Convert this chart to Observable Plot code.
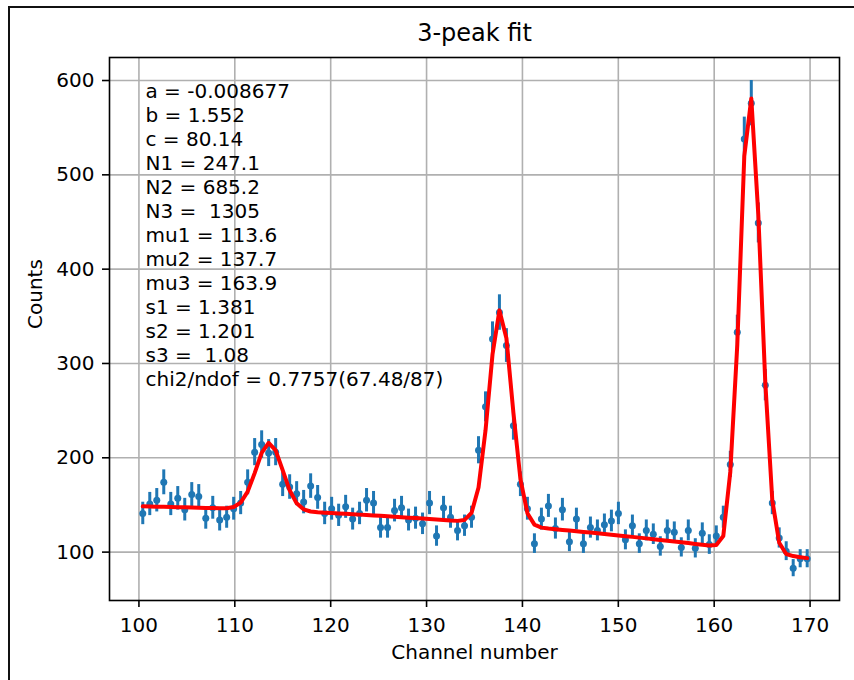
<!DOCTYPE html>
<html>
<head>
<meta charset="utf-8">
<script src="https://cdn.jsdelivr.net/npm/d3@7"></script>
<script src="https://cdn.jsdelivr.net/npm/@observablehq/plot@0.6"></script>
<style>
html, body { margin: 0; padding: 0; background: #ffffff; }
#wrap { position: relative; width: 854px; height: 680px; overflow: hidden; background: #ffffff; }
#chart { position: absolute; left: 0; top: 0; }
#border { position: absolute; left: 8px; top: 6px; right: -20px; bottom: -20px; border-left: 2px solid #111; border-top: 2px solid #111; pointer-events: none; }
svg text { white-space: pre; }
</style>
</head>
<body>
<div id="wrap"><div id="chart"></div><div id="border"></div></div>
<script>
// Bin centres (channel number)
const channel = [
  100.40, 101.13, 101.86, 102.59, 103.32, 104.05, 104.78, 105.51, 106.24, 106.97,
  107.70, 108.42, 109.15, 109.88, 110.61, 111.34, 112.07, 112.80, 113.53, 114.26,
  114.99, 115.72, 116.45, 117.18, 117.91, 118.64, 119.37, 120.10, 120.83, 121.56,
  122.29, 123.01, 123.74, 124.47, 125.20, 125.93, 126.66, 127.39, 128.12, 128.85,
  129.58, 130.31, 131.04, 131.77, 132.50, 133.23, 133.96, 134.69, 135.42, 136.15,
  136.88, 137.60, 138.33, 139.06, 139.79, 140.52, 141.25, 141.98, 142.71, 143.44,
  144.17, 144.90, 145.63, 146.36, 147.09, 147.82, 148.55, 149.28, 150.01, 150.74,
  151.47, 152.19, 152.92, 153.65, 154.38, 155.11, 155.84, 156.57, 157.30, 158.03,
  158.76, 159.49, 160.22, 160.95, 161.68, 162.41, 163.14, 163.87, 164.60, 165.33,
  166.06, 166.78, 167.51, 168.24, 168.97, 169.70
];
// Measured counts
const counts = [
  141, 151, 155, 174, 151, 157, 145, 161, 159, 136,
  147, 134, 137, 146, 152, 174, 206, 214, 205, 206,
  172, 169, 162, 153, 170, 158, 141, 146, 139, 148,
  135, 141, 155, 152, 126, 126, 144, 147, 134, 136,
  130, 152, 117, 147, 137, 123, 128, 137, 208, 254,
  326, 354, 319, 234, 172, 146, 109, 135, 149, 125,
  145, 111, 135, 109, 126, 123, 129, 133, 141, 113,
  128, 109, 123, 119, 106, 123, 121, 105, 123, 104,
  120, 108, 117, 137, 193, 333, 538, 576, 449, 277,
  152, 115, 101, 83, 93, 93
];
// Error bar half-lengths
const errors = [
  11.9, 12.3, 12.4, 13.2, 12.3, 12.5, 12.0, 12.7, 12.6, 11.7,
  12.1, 11.6, 11.7, 12.1, 12.3, 13.2, 14.4, 14.6, 14.3, 14.4,
  13.1, 13.0, 12.7, 12.4, 13.0, 12.6, 11.9, 12.1, 11.8, 12.2,
  11.6, 11.9, 12.4, 12.3, 11.2, 11.2, 12.0, 12.1, 11.6, 11.7,
  11.4, 12.3, 10.8, 12.1, 11.7, 11.1, 11.3, 11.7, 14.4, 15.9,
  18.1, 18.8, 17.9, 15.3, 13.1, 12.1, 10.4, 11.6, 12.2, 11.2,
  12.0, 10.5, 11.6, 10.4, 11.2, 11.1, 11.4, 11.5, 11.9, 10.6,
  11.3, 10.4, 11.1, 10.9, 10.3, 11.1, 11.0, 10.2, 11.1, 10.2,
  11.0, 10.4, 10.8, 11.7, 13.9, 18.2, 23.2, 24.0, 21.2, 16.6,
  12.3, 10.7, 10.0, 9.1, 9.6, 9.6
];
// Fitted curve values at each channel
const fitValues = [
  148.50, 148.35, 148.20, 148.04, 147.87, 147.69, 147.50, 147.30, 147.09, 146.87,
  146.65, 146.47, 146.56, 147.82, 152.53, 164.14, 183.79, 205.19, 215.79, 207.85,
  186.88, 165.53, 151.71, 145.34, 143.05, 142.21, 141.76, 141.38, 140.99, 140.59,
  140.17, 139.75, 139.32, 138.89, 138.44, 137.98, 137.51, 137.04, 136.55, 136.06,
  135.55, 135.04, 134.52, 133.99, 133.47, 133.12, 134.11, 141.54, 168.51, 229.09,
  309.79, 356.28, 326.79, 247.66, 177.38, 141.27, 129.11, 125.98, 124.95, 124.23,
  123.54, 122.84, 122.14, 121.42, 120.70, 119.96, 119.22, 118.46, 117.70, 116.93,
  116.15, 115.36, 114.56, 113.75, 112.93, 112.11, 111.27, 110.43, 109.57, 108.71,
  107.83, 107.07, 107.50, 117.00, 185.00, 320.00, 520.00, 581.00, 458.00, 280.00,
  155.00, 110.00, 98.00, 95.79, 94.64, 93.63
];
const xTicks = [100, 110, 120, 130, 140, 150, 160, 170];
const yTicks = [100, 200, 300, 400, 500, 600];
const fitLabels = [
  "a = -0.008677",
  "b = 1.552",
  "c = 80.14",
  "N1 = 247.1",
  "N2 = 685.2",
  "N3 =  1305",
  "mu1 = 113.6",
  "mu2 = 137.7",
  "mu3 = 163.9",
  "s1 = 1.381",
  "s2 = 1.201",
  "s3 =  1.08",
  "chi2/ndof = 0.7757(67.48/87)"
];
const titleText = "3-peak fit";
const xLabel = "Channel number";
const yLabel = "Counts";

const points = channel.map((x, i) => ({x, y: counts[i], e: errors[i]}));
const fit = channel.map((x, i) => ({x, y: fitValues[i]}));

const blue = "#1f77b4";
const grid = "#b0b0b0";

const chart = Plot.plot({
  width: 854,
  height: 680,
  marginLeft: 109,
  marginRight: 15,
  marginTop: 57,
  marginBottom: 80,
  style: {fontFamily: "'DejaVu Sans', sans-serif", fontSize: "20px", color: "#000", background: "transparent", overflow: "visible"},
  x: {domain: [96.93, 173.07]},
  y: {domain: [48.7, 624.4]},
  marks: [
    Plot.gridX(xTicks, {stroke: grid, strokeOpacity: 1, strokeWidth: 1.6}),
    Plot.gridY(yTicks, {stroke: grid, strokeOpacity: 1, strokeWidth: 1.6}),
    Plot.axisX(xTicks, {tickSize: 7, tickPadding: 10, fontSize: 20, label: null, stroke: "#000", strokeWidth: 1.6, fill: "#000"}),
    Plot.axisY(yTicks, {tickSize: 7, tickPadding: 8, fontSize: 20, label: null, stroke: "#000", strokeWidth: 1.6, fill: "#000"}),
    Plot.ruleX(points, {x: "x", y1: d => d.y - d.e, y2: d => d.y + d.e, stroke: blue, strokeWidth: 3}),
    Plot.dot(points, {x: "x", y: "y", r: 3.5, fill: blue, stroke: "none"}),
    Plot.line(fit, {x: "x", y: "y", stroke: "red", strokeWidth: 4}),
    Plot.frame({stroke: "#000", strokeWidth: 1.6}),
    Plot.text([fitLabels.join("\n")], {text: d => d, frameAnchor: "top-left", dx: 36, dy: 23, lineAnchor: "top", textAnchor: "start", fontSize: 20, lineHeight: 1.2, fill: "#000"}),
    Plot.text([titleText], {text: d => d, frameAnchor: "top", dy: -24, fontSize: 24, lineAnchor: "middle", fill: "#000"}),
    Plot.text([xLabel], {text: d => d, frameAnchor: "bottom", dy: 52, fontSize: 20, lineAnchor: "middle", fill: "#000"}),
    Plot.text([yLabel], {text: d => d, frameAnchor: "left", dx: -74, rotate: -90, fontSize: 20, lineAnchor: "middle", fill: "#000"})
  ]
});
document.getElementById("chart").appendChild(chart);
</script>
</body>
</html>
